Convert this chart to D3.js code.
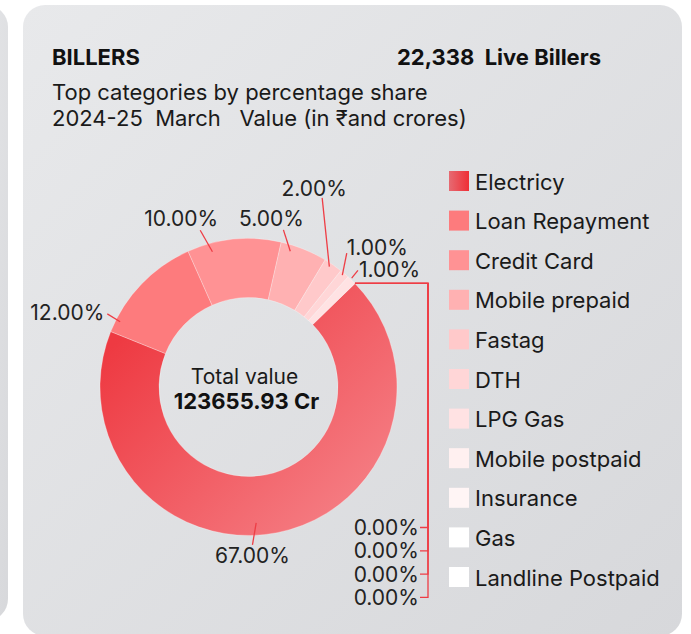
<!DOCTYPE html>
<html>
<head>
<meta charset="utf-8">
<script src="https://cdn.jsdelivr.net/npm/d3@7"></script>
<style>
  body { margin: 0; background: #fff; }
  svg { display: block; }
</style>
</head>
<body>
<svg id="chart"></svg>
<script>
"use strict";

// ---- data ----
const categories = ["Electricy", "Loan Repayment", "Credit Card", "Mobile prepaid", "Fastag",
  "DTH", "LPG Gas", "Mobile postpaid", "Insurance", "Gas", "Landline Postpaid"];
const shares = [67, 12, 10, 5, 2, 1, 1, 0, 0, 0, 0];
const totalValue = "123655.93 Cr";
const liveBillers = "22,338";

// ---- styles ----
const palette = ["url(#elecGrad)", "#fd7b7d", "#ff9294", "#ffb1b2", "#ffc9ca",
  "#ffd6d7", "#ffe2e3", "#fff0f0", "#fff5f5", "#ffffff", "#ffffff"];
const lineRed = "#ee3d45";
const font = "Inter, 'Noto Sans', sans-serif";

// label nudges around each slice's mid angle (degrees), leader length, text offset
const labelLayout = {
  "Electricy":      { s: 7.9,  e: 9.7,   r1: 136, r2: 158, anchor: "middle", dx: 0,   dy: 18 },
  "Loan Repayment": { s: -17,  e: -16.6, r1: 144, r2: 159, anchor: "end",    dx: -3,  dy: 6 },
  "Credit Card":    { s: -9.3, e: -11.5, r1: 140, r2: 164, anchor: "middle", dx: -19, dy: -4 },
  "Mobile prepaid": { s: -4.8, e: -9.4,  r1: 142, r2: 161, anchor: "middle", dx: -12, dy: -4 },
  "Fastag":         { s: -0.9, e: -13.5, r1: 145, r2: 203, anchor: "middle", dx: -8,  dy: -2 },
  "DTH":            { s: -0.3, e: -4,    r1: 146, r2: 166, anchor: "start",  dx: 0,   dy: 2 },
  "LPG Gas":        { s: -0.5, e: -0.8,  r1: 150, r2: 160, anchor: "start",  dx: 1,   dy: 7 }
};

const W = 691, H = 634;
const cx = 248.5, cy = 387;
const rOuter = 148.5, rInner = 89.5;
const start = 45.8 * Math.PI / 180;
const rad = Math.PI / 180;

const svg = d3.select("#chart").attr("width", W).attr("height", H);
const defs = svg.append("defs");

const cardGrad = defs.append("linearGradient").attr("id", "cardGrad")
  .attr("x1", 0).attr("y1", 0).attr("x2", 1).attr("y2", 1);
cardGrad.append("stop").attr("offset", 0).attr("stop-color", "#e8e9eb");
cardGrad.append("stop").attr("offset", 1).attr("stop-color", "#d7d8db");

// gradient in the donut group's own coordinates (centre = 0,0)
const elecGrad = defs.append("linearGradient").attr("id", "elecGrad")
  .attr("gradientUnits", "userSpaceOnUse")
  .attr("x1", -rOuter).attr("y1", -rOuter)
  .attr("x2", rOuter).attr("y2", rOuter);
elecGrad.append("stop").attr("offset", 0.2).attr("stop-color", "#ee3a42");
elecGrad.append("stop").attr("offset", 1).attr("stop-color", "#f6888e");

const swatchGrad = defs.append("linearGradient").attr("id", "swatchGrad");
swatchGrad.append("stop").attr("offset", 0).attr("stop-color", "#e66a72");
swatchGrad.append("stop").attr("offset", 1).attr("stop-color", "#ef2f36");

// ---- cards ----
svg.append("rect").attr("x", -40).attr("y", 5).attr("width", 48).attr("height", 616)
  .attr("rx", 22).attr("fill", "url(#cardGrad)");
svg.append("rect").attr("x", 23).attr("y", 5).attr("width", 659).attr("height", 631)
  .attr("rx", 22).attr("fill", "url(#cardGrad)");

// ---- header ----
svg.append("text").attr("x", 52).attr("y", 65)
  .style("font", `bold 22px ${font}`).attr("fill", "#111").text("BILLERS");
svg.append("text").attr("x", 601).attr("y", 65).attr("text-anchor", "end")
  .style("font", `bold 22px ${font}`).attr("fill", "#111")
  .text(`${liveBillers}\u00a0\u00a0Live Billers`);
svg.append("text").attr("x", 52).attr("y", 100)
  .style("font", `22px ${font}`).attr("fill", "#1a1a1a")
  .text("Top categories by percentage share");
svg.append("text").attr("x", 52).attr("y", 126)
  .style("font", `22px ${font}`).attr("fill", "#1a1a1a")
  .text("2024-25\u00a0\u00a0March\u00a0\u00a0\u00a0Value (in \u20b9and crores)");

// ---- donut ----
const rows = categories.map((c, i) => ({ cat: c, share: shares[i], color: palette[i] }));
const pie = d3.pie().sort(null).value(d => d.share)
  .startAngle(start).endAngle(start + 2 * Math.PI);
const arcs = pie(rows);
const arc = d3.arc().innerRadius(rInner).outerRadius(rOuter);

const g = svg.append("g").attr("transform", `translate(${cx},${cy})`);
g.selectAll("path.slice").data(arcs.filter(a => a.data.share > 0)).join("path")
  .attr("class", "slice")
  .attr("d", arc)
  .attr("fill", d => d.data.color)
  .attr("stroke", "rgba(255,255,255,0.35)")
  .attr("stroke-width", 0.8);

const polar = (a, r) => [r * Math.sin(a), -r * Math.cos(a)];

// labels for non-zero slices
arcs.filter(a => a.data.share > 0).forEach(a => {
  const L = labelLayout[a.data.cat];
  const mid = (a.startAngle + a.endAngle) / 2;
  const p1 = polar(mid + L.s * rad, L.r1);
  const p2 = polar(mid + L.e * rad, L.r2);
  g.append("line")
    .attr("x1", p1[0]).attr("y1", p1[1]).attr("x2", p2[0]).attr("y2", p2[1])
    .attr("stroke", lineRed).attr("stroke-width", 1.3);
  g.append("text")
    .attr("x", p2[0] + L.dx).attr("y", p2[1] + L.dy)
    .attr("text-anchor", L.anchor)
    .style("font", `21px ${font}`).attr("fill", "#222")
    .text(d3.format(".2f")(a.data.share) + "%");
});

// zero slices: bracket to a stacked list below
const zeros = arcs.filter(a => a.data.share === 0);
const bracketX = 428 - cx, zeroTop = 527.5 - cy, zeroGap = 23.3;
zeros.forEach((a, i) => {
  const p = polar(a.startAngle, rOuter);
  const y = zeroTop + i * zeroGap;
  g.append("path")
    .attr("d", `M${p[0]},${p[1]}H${bracketX}V${y}H${bracketX - 8}`)
    .attr("fill", "none").attr("stroke", lineRed).attr("stroke-width", 1.3);
  g.append("text")
    .attr("x", bracketX - 9).attr("y", y + 7.5).attr("text-anchor", "end")
    .style("font", `21px ${font}`).attr("fill", "#222")
    .text(d3.format(".2f")(a.data.share) + "%");
});

// centre text
g.append("text").attr("x", -4).attr("y", -3).attr("text-anchor", "middle")
  .style("font", `21px ${font}`).attr("fill", "#1a1a1a").text("Total value");
g.append("text").attr("x", -2).attr("y", 22).attr("text-anchor", "middle")
  .style("font", `bold 22px ${font}`).attr("fill", "#111").text(totalValue);

// ---- legend ----
const legend = svg.append("g").attr("transform", "translate(449,171)");
const item = legend.selectAll("g").data(rows).join("g")
  .attr("transform", (d, i) => `translate(0,${i * 39.6})`);
item.append("rect").attr("width", 20).attr("height", 20)
  .attr("fill", (d, i) => i === 0 ? "url(#swatchGrad)" : d.color);
item.append("text").attr("x", 26).attr("y", 18.5)
  .style("font", `22px ${font}`).attr("fill", "#1a1a1a")
  .text(d => d.cat);
</script>
</body>
</html>
